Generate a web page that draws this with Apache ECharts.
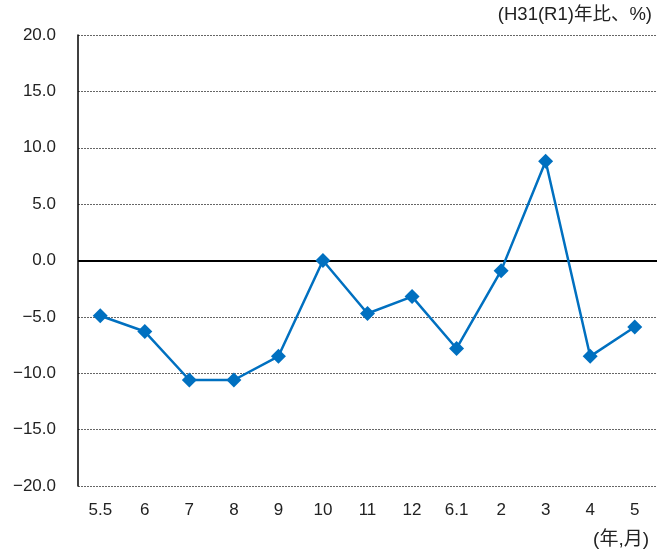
<!DOCTYPE html>
<html><head><meta charset="utf-8">
<script src="https://cdn.jsdelivr.net/npm/echarts@6/dist/echarts.min.js"></script>
<style>html,body{margin:0;padding:0;background:#fff}#c{width:657px;height:555px}</style>
</head><body><div id="c"></div>
<script>
const categories = ['5.5','6','7','8','9','10','11','12','6.1','2','3','4','5'];
const values = [-4.9, -6.3, -10.6, -10.6, -8.5, 0.0, -4.7, -3.2, -7.8, -0.9, 8.8, -8.5, -5.9];
const yTicks = [-20, -15, -10, -5, 0, 5, 10, 15, 20];
const unitLabel = '(H31(R1)年比、%)';
const xUnitLabel = '(年,月)';

const FONT = '"Liberation Sans", "Noto Sans CJK JP", sans-serif';
const chart = echarts.init(document.getElementById('c'), null, {renderer: 'canvas'});
chart.setOption({
  animation: false,
  backgroundColor: '#fff',
  grid: {left: 78, right: 0, top: 35, bottom: 69, containLabel: false},
  graphic: [
    {type: 'text', right: 5, top: 6, style: {text: unitLabel, font: '18.5px ' + FONT, fill: '#222'}},
    {type: 'text', right: 8, top: 530, style: {text: xUnitLabel, font: '19px ' + FONT, fill: '#222'}}
  ],
  xAxis: {
    type: 'category', data: categories, boundaryGap: true,
    axisLine: {show: false}, axisTick: {show: false},
    axisLabel: {margin: 16, color: '#222', fontSize: 17, fontFamily: FONT}
  },
  yAxis: {
    type: 'value', min: yTicks[0], max: yTicks[yTicks.length - 1], interval: 5,
    axisLine: {show: true, lineStyle: {color: '#000', width: 1.5}},
    axisTick: {show: false},
    axisLabel: {margin: 22, color: '#222', fontSize: 17, fontFamily: FONT,
      formatter: v => (v < 0 ? '\u2212' + Math.abs(v).toFixed(1) : v.toFixed(1))},
    splitLine: {show: true, lineStyle: {color: '#666', type: [2, 1], width: 1}}
  },
  series: [{
    type: 'line', data: values,
    symbol: 'diamond', symbolSize: 15,
    lineStyle: {color: '#0070C0', width: 2.5},
    itemStyle: {color: '#0070C0'},
    markLine: {
      silent: true, symbol: 'none', label: {show: false},
      lineStyle: {color: '#000', width: 2, type: 'solid'},
      data: [{yAxis: 0}]
    },
    z: 5
  }]
});
</script></body></html>
